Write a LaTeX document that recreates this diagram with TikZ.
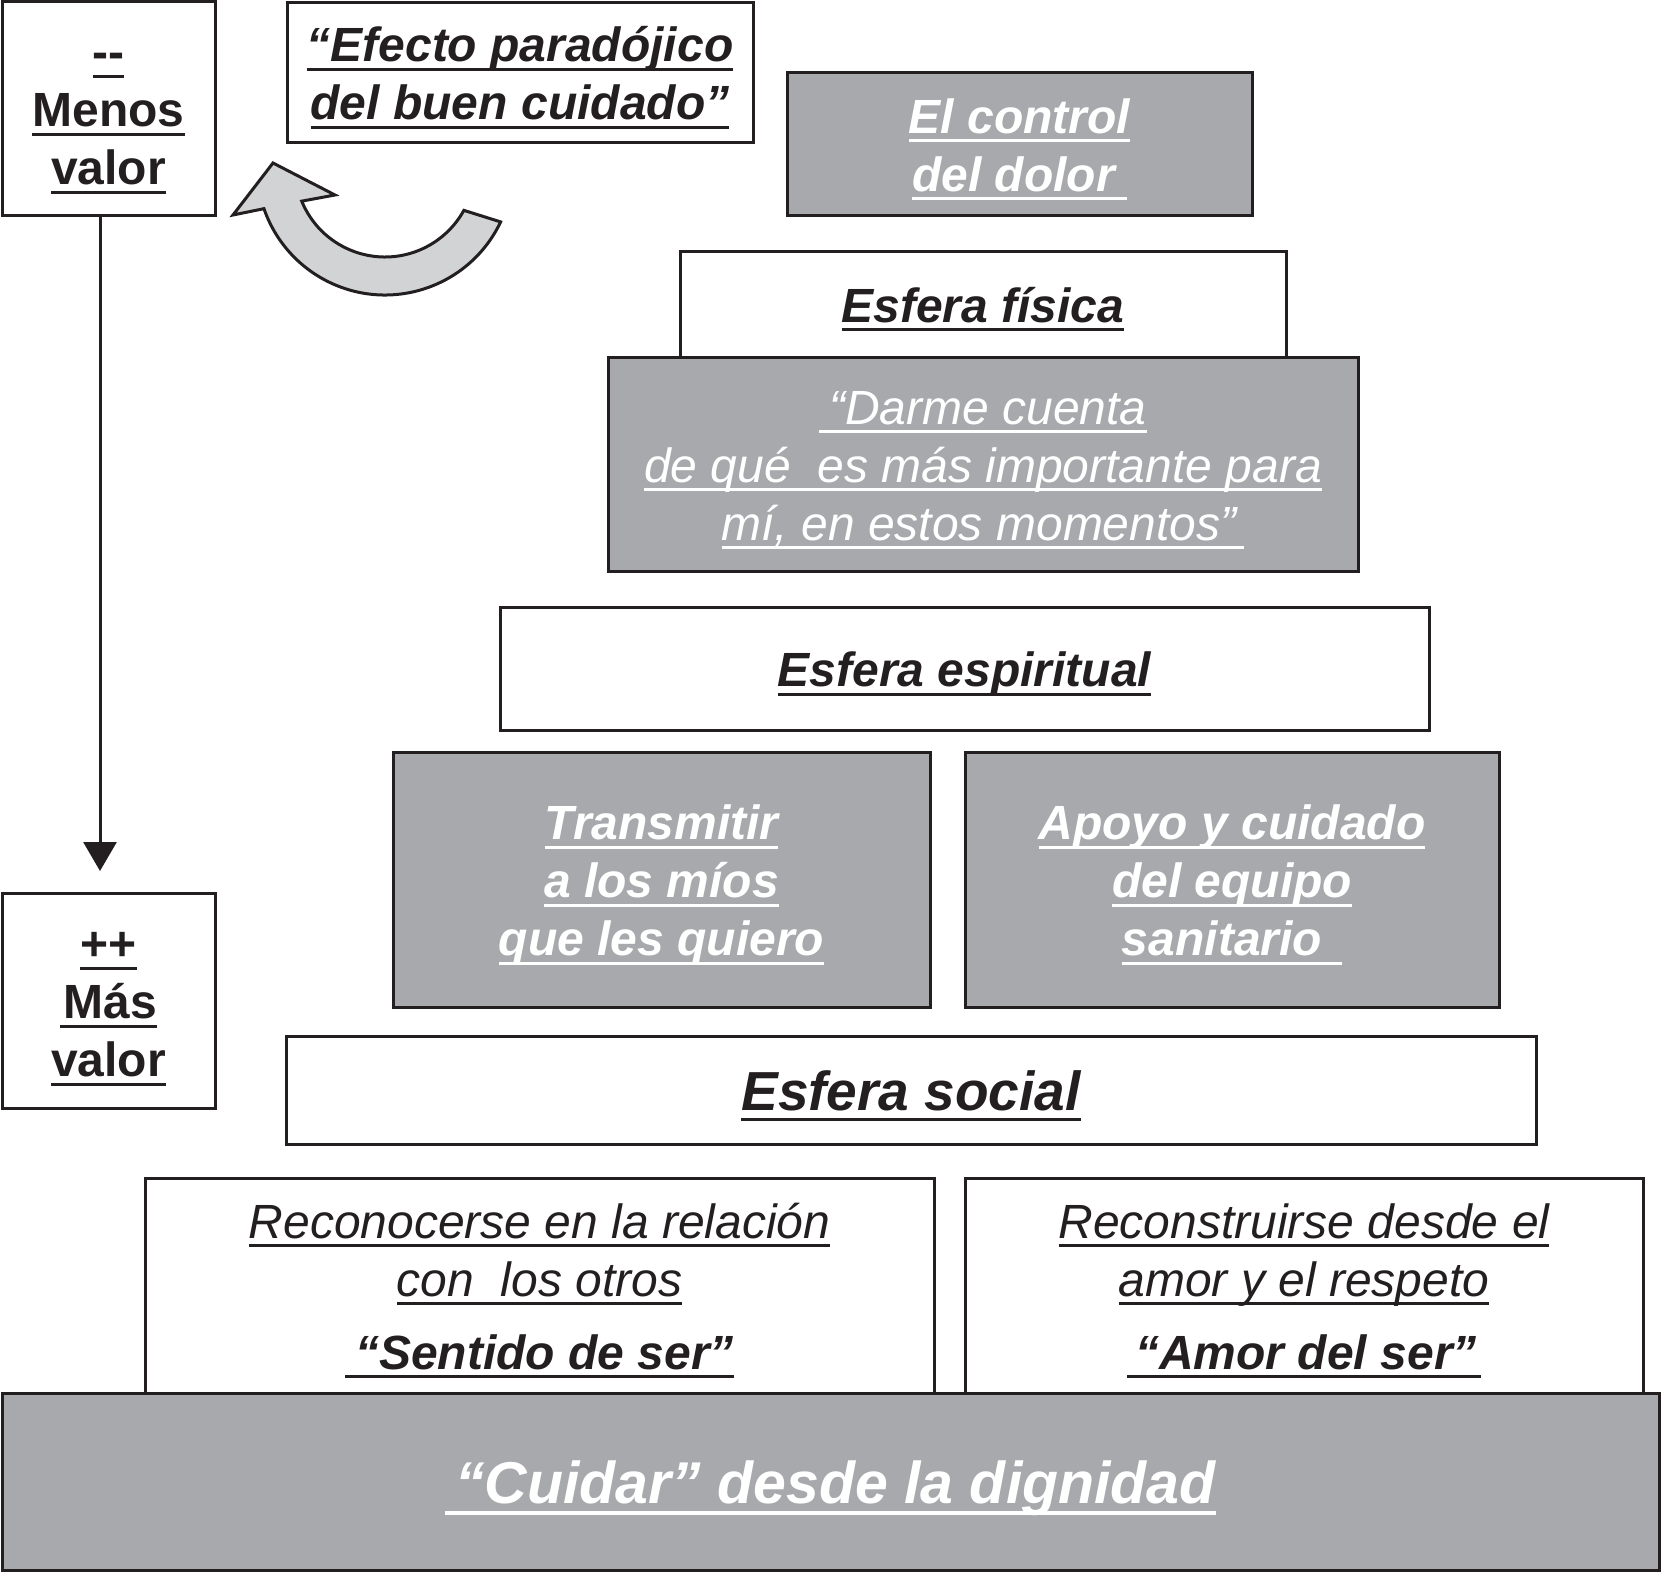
\documentclass[tikz,border=0pt]{standalone}
\usepackage{fontspec}
\setmainfont{Liberation Sans}
\usetikzlibrary{arrows.meta,calc}
\definecolor{ink}{HTML}{231F20}
\definecolor{boxgray}{HTML}{A7A9AC}
\definecolor{arrowgray}{HTML}{D1D3D4}
\newcommand\ulx[1]{\setbox0=\hbox{#1}\rlap{\rule[-0.19em]{\wd0}{0.06em}}\box0\rule[-0.21em]{0pt}{1.17em}}
\begin{document}
\begin{tikzpicture}[x=1pt,y=-1pt,
  frame/.style={draw=ink, line width=3pt, inner sep=0pt, align=center, text=ink},
  grayframe/.style={frame, fill=boxgray, text=white},
  bi/.style={font=\fontsize{48}{58}\selectfont\bfseries\itshape},
  ri/.style={font=\fontsize{48}{58}\selectfont\itshape},
  bu/.style={font=\fontsize{48}{58}\selectfont\bfseries},
  conn/.style={draw=ink, line width=3pt},
  bigarrow/.style={draw=ink, line width=3pt, fill=arrowgray, line join=miter},
]
\useasboundingbox (0,0) rectangle (1661,1573);

% left scale boxes
\node[frame, bu, minimum width=213pt, minimum height=213pt] (menos) at (108.5,108.5)
  {\ulx{-{}-}\\\ulx{Menos}\\\ulx{valor}};
\node[frame, bu, minimum width=213pt, minimum height=215pt] (mas) at (108.5,1000.5)
  {\ulx{++}\\\ulx{\hspace{4pt}Más}\\\ulx{valor}};
\coordinate (tipA) at (100,871);
\draw[conn, -{Triangle[width=33pt,length=29pt]}] (menos.south -| tipA) -- (tipA);

% paradox box and curved arrow
\node[frame, bi, minimum width=466pt, minimum height=140pt] (efecto) at (520,73)
  {\ulx{“Efecto paradójico}\\\ulx{del buen cuidado”}};
\coordinate (cc) at (385,167);
\draw[bigarrow] ([shift={(25.4:128)}]cc) arc[start angle=25.4, end angle=161, radius=128]
  -- (233,215) -- (273,163) -- (335,195)
  -- ([shift={(157.7:90)}]cc) arc[start angle=157.7, end angle=28.8, radius=90] -- cycle;

% pyramid
\node[grayframe, bi, minimum width=465pt, minimum height=142pt] (control) at (1019.5,144)
  {\ulx{El control}\\\ulx{del dolor\hspace{12pt}}};
\node[frame, bi, minimum width=606pt, minimum height=106pt] (fisica) at (983,304)
  {\ulx{Esfera física}};
\node[grayframe, ri, minimum width=750pt, minimum height=214pt] (darme) at (983,464)
  {\ulx{\hspace{10pt}“Darme cuenta}\\\ulx{de qué\ \ es más importante para}\\\ulx{mí, en estos momentos”\hspace{8pt}}};
\node[frame, bi, minimum width=929pt, minimum height=123pt] (espiritual) at (964.5,668.5)
  {\ulx{Esfera espiritual}};
\node[grayframe, bi, minimum width=537pt, minimum height=255pt] (transmitir) at (661.5,879.5)
  {\ulx{Transmitir}\\\ulx{a los míos}\\\ulx{que les quiero}};
\node[grayframe, bi, minimum width=534pt, minimum height=255pt] (apoyo) at (1232,879.5)
  {\ulx{Apoyo y cuidado}\\\ulx{del equipo}\\\ulx{sanitario\hspace{20pt}}};
\node[frame, font=\fontsize{55}{64}\selectfont\bfseries\itshape, minimum width=1250pt, minimum height=108pt] (social) at (911,1090)
  {\ulx{Esfera social}};
\node[frame, ri, minimum width=789pt, minimum height=215pt] (recon1) at (539.5,1285.5)
  {\ulx{Reconocerse en la relación}\\\ulx{con\ \ los otros}\\[15pt]{\bfseries\ulx{\hspace{10pt}“Sentido de ser”}}};
\node[frame, ri, minimum width=678pt, minimum height=215pt] (recon2) at (1304,1285.5)
  {\ulx{Reconstruirse desde el}\\\ulx{amor y el respeto}\\[15pt]{\bfseries\ulx{\hspace{8pt}“Amor del ser”\hspace{4pt}}}};
\node[grayframe, font=\fontsize{59}{68}\selectfont\bfseries\itshape, minimum width=1657pt, minimum height=177pt] (cuidar) at (830.5,1481.5)
  {\ulx{\hspace{10pt}“Cuidar” desde la dignidad}};
\end{tikzpicture}
\end{document}
